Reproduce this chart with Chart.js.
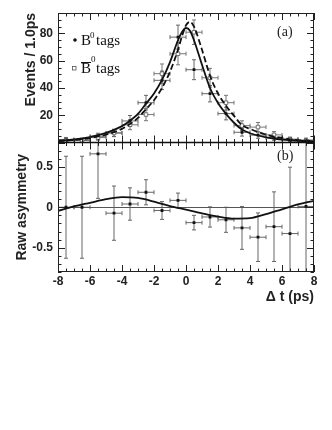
<!DOCTYPE html>
<html>
<head>
<meta charset="utf-8">
<script src="https://cdn.jsdelivr.net/npm/chart.js@4.4.0/dist/chart.umd.min.js"></script>
<style>
  body { margin: 0; background: #fff; }
  #wrap { width: 332px; height: 430px; }
</style>
</head>
<body>
<div id="wrap"><canvas id="myChart" width="332" height="430"></canvas></div>
<script>
// bins of 1 ps
const binCenters = [-7.5, -6.5, -5.5, -4.5, -3.5, -2.5, -1.5, -0.5, 0.5, 1.5, 2.5, 3.5, 4.5, 5.5, 6.5, 7.5];
const b0Events    = [2.2, 1.7, 4.6, 7, 15.8, 29.2, 45.6, 77.3, 53.4, 35.8, 21.2, 7.5, 5.4, 3.5, 2.3, 1.8];
const b0Err       = [1.5, 1.4, 2.2, 2.7, 4, 5.4, 6.8, 8.8, 7.3, 6, 4.6, 2.8, 2.3, 1.9, 1.5, 1.4];
const b0barEvents = [1.5, 1.5, 3.6, 7, 13, 20.5, 50.5, 65.1, 80.9, 47.5, 29.2, 12.4, 11.3, 5.6, 2.4, 1.2];
const b0barErr    = [1.2, 1.2, 1.9, 2.6, 3.6, 4.5, 7.1, 8.1, 9, 6.9, 5.4, 3.5, 3.4, 2.4, 1.5, 1.1];
const asym        = [0.0, 0.0, 0.66, -0.073, 0.04, 0.185, -0.04, 0.085, -0.19, -0.12, -0.155, -0.255, -0.37, -0.24, -0.325, 0.01];
const asymErr     = [0.63, 0.63, 0.55, 0.335, 0.2, 0.155, 0.11, 0.09, 0.09, 0.125, 0.155, 0.265, 0.3, 0.43, 0.82, 1.0];

// fit curves
const fitT      = [-8, -7, -6, -5, -4, -3.5, -3, -2.5, -2, -1.5, -1, -0.5, -0.25, 0, 0.25, 0.5, 1, 1.5, 2, 2.5, 3, 3.5, 4, 5, 6, 7, 8];
const fitB0     = [1.3, 2.2, 4, 7, 12, 16, 21, 28.5, 36, 46, 59, 75, 81, 84, 82, 75, 57, 40, 29, 21, 14.5, 9.5, 6.8, 3.8, 2.2, 1.3, 0.8];
const fitB0bar  = [1, 1.8, 3.3, 5.8, 10, 13.5, 18, 24.5, 31, 40, 52, 68, 78, 86, 88.5, 85, 68, 49, 36, 27, 19.5, 12.8, 10, 5.8, 3.3, 1.8, 1.1];
const asymT     = [-8, -7, -6, -5, -4, -3, -2, -1, 0, 1, 2, 3, 4, 5, 6, 7, 8];
const asymFit   = [-0.045, 0.01, 0.055, 0.1, 0.125, 0.115, 0.07, 0.015, -0.03, -0.075, -0.115, -0.14, -0.135, -0.085, -0.025, 0.035, 0.08];

const xTicks    = [-8, -6, -4, -2, 0, 2, 4, 6, 8];
const topTicks  = [20, 40, 60, 80];
const botTicks  = [-0.5, 0, 0.5];

const pts = (xs, ys) => xs.map((x, i) => ({ x: x, y: ys[i] }));

const tickFont = { family: 'Liberation Sans', size: 12, weight: 'bold' };
const titleFont = { family: 'Liberation Sans', size: 14, weight: 'bold' };

function drawErrors(chart, yScale, xs, ys, errs, color) {
  const c = chart.ctx, xS = chart.scales.x;
  c.save();
  c.beginPath();
  c.rect(chart.chartArea.left, yScale.top, chart.chartArea.right - chart.chartArea.left, yScale.bottom - yScale.top);
  c.clip();
  c.strokeStyle = color;
  c.lineWidth = 1;
  xs.forEach((x, i) => {
    const px = xS.getPixelForValue(x);
    const py = yScale.getPixelForValue(ys[i]);
    const x0 = xS.getPixelForValue(x - 0.5), x1 = xS.getPixelForValue(x + 0.5);
    const y0 = yScale.getPixelForValue(ys[i] - errs[i]), y1 = yScale.getPixelForValue(ys[i] + errs[i]);
    c.beginPath();
    c.moveTo(x0, py); c.lineTo(x1, py);
    c.moveTo(x0, py - 2); c.lineTo(x0, py + 2);
    c.moveTo(x1, py - 2); c.lineTo(x1, py + 2);
    c.moveTo(px, y0); c.lineTo(px, y1);
    c.moveTo(px - 2, y0); c.lineTo(px + 2, y0);
    c.moveTo(px - 2, y1); c.lineTo(px + 2, y1);
    c.stroke();
  });
  c.restore();
}

function drawTicks(c, yS, step, minorStep, leftX, rightX) {
  c.beginPath();
  for (let v = Math.ceil(yS.min / minorStep) * minorStep; v <= yS.max + 1e-9; v += minorStep) {
    const major = Math.abs(v / step - Math.round(v / step)) < 1e-6;
    const len = major ? 7 : 3.5;
    const py = Math.round(yS.getPixelForValue(v)) + 0.5;
    c.moveTo(leftX, py); c.lineTo(leftX + len, py);
    c.moveTo(rightX, py); c.lineTo(rightX - len, py);
  }
  c.stroke();
}

const panelPlugin = {
  id: 'panels',
  beforeDatasetsDraw(chart) {
    const yb = chart.scales.yBot, yt = chart.scales.yTop;
    drawErrors(chart, yt, binCenters, b0barEvents, b0barErr, '#777');
    drawErrors(chart, yt, binCenters, b0Events, b0Err, '#666');
    drawErrors(chart, yb, binCenters, asym, asymErr, '#666');
    const c = chart.ctx, a = chart.chartArea;
    // zero line
    c.save();
    c.strokeStyle = '#555';
    c.lineWidth = 1;
    const z = Math.round(yb.getPixelForValue(0)) + 0.5;
    c.beginPath(); c.moveTo(a.left, z); c.lineTo(a.right, z); c.stroke();
    c.restore();
  },
  afterDraw(chart) {
    const c = chart.ctx, a = chart.chartArea, xS = chart.scales.x;
    const yb = chart.scales.yBot, yt = chart.scales.yTop;
    c.save();
    c.strokeStyle = '#222';
    c.lineWidth = 1;
    c.strokeRect(a.left + 0.5, a.top + 0.5, a.right - a.left - 1, a.bottom - a.top - 1);
    drawTicks(c, yt, 20, 5, a.left, a.right);
    drawTicks(c, yb, 0.5, 0.1, a.left, a.right);
    // x ticks at top, middle (both ways), bottom
    const mid = yt.bottom;
    c.beginPath();
    for (let v = -8; v <= 8; v += 0.5) {
      const major = v % 2 === 0;
      const len = major ? 7 : 3.5;
      const px = Math.round(xS.getPixelForValue(v)) + 0.5;
      c.moveTo(px, a.top); c.lineTo(px, a.top + len);
      c.moveTo(px, a.bottom); c.lineTo(px, a.bottom - len);
      c.moveTo(px, mid - len); c.lineTo(px, mid + len);
    }
    c.stroke();
    c.lineWidth = 1.6;
    c.strokeStyle = '#111';
    c.beginPath(); c.moveTo(a.left, mid); c.lineTo(a.right, mid); c.stroke();

    // panel labels
    c.fillStyle = '#222';
    c.font = '14px "Liberation Serif"';
    c.textAlign = 'left';
    c.textBaseline = 'middle';
    c.fillText('(a)', 277, 32);
    c.fillText('(b)', 277, 156);

    // legend
    c.textBaseline = 'alphabetic';
    c.fillStyle = '#111';
    c.beginPath(); c.arc(75, 40, 1.8, 0, Math.PI * 2); c.fill();
    c.font = '15px "Liberation Serif"';
    c.fillText('B', 81, 45);
    c.font = '9px "Liberation Serif"';
    c.fillText('0', 90, 38);
    c.font = '15px "Liberation Serif"';
    c.fillText('tags', 96, 45);

    c.lineWidth = 0.8;
    c.strokeStyle = '#555';
    c.strokeRect(72.5, 66.5, 3.5, 3.5);
    c.fillText('B', 81, 73);
    c.font = '9px "Liberation Serif"';
    c.fillText('0', 91, 62);
    c.font = '15px "Liberation Serif"';
    c.fillText('tags', 96, 73);
    c.lineWidth = 1;
    c.strokeStyle = '#111';
    c.beginPath(); c.moveTo(81, 62.5); c.lineTo(91, 62.5); c.stroke();
    c.restore();
  }
};

const ctx = document.getElementById('myChart').getContext('2d');

const myChart = new Chart(ctx, {
  data: {
    datasets: [
      {
        type: 'line', label: 'fit B0', data: pts(fitT, fitB0), yAxisID: 'yTop',
        borderColor: '#111', borderWidth: 1.8, pointRadius: 0, cubicInterpolationMode: 'monotone', fill: false
      },
      {
        type: 'line', label: 'fit B0bar', data: pts(fitT, fitB0bar), yAxisID: 'yTop',
        borderColor: '#111', borderWidth: 1.8, borderDash: [6, 3], pointRadius: 0, cubicInterpolationMode: 'monotone', fill: false
      },
      {
        type: 'scatter', label: 'B0bar tags', data: pts(binCenters, b0barEvents), yAxisID: 'yTop',
        pointStyle: 'rect', pointRadius: 2.5, backgroundColor: '#fff', borderColor: '#555', borderWidth: 0.8
      },
      {
        type: 'scatter', label: 'B0 tags', data: pts(binCenters, b0Events), yAxisID: 'yTop',
        pointStyle: 'rect', pointRadius: 2, backgroundColor: '#111', borderColor: '#111', borderWidth: 0
      },
      {
        type: 'line', label: 'asym fit', data: pts(asymT, asymFit), yAxisID: 'yBot',
        borderColor: '#111', borderWidth: 1.8, pointRadius: 0, cubicInterpolationMode: 'monotone', fill: false
      },
      {
        type: 'scatter', label: 'asym', data: pts(binCenters, asym), yAxisID: 'yBot',
        pointStyle: 'rect', pointRadius: 2, backgroundColor: '#111', borderColor: '#111', borderWidth: 0
      }
    ]
  },
  options: {
    responsive: false,
    animation: false,
    layout: { padding: { top: 13, right: 18, left: 0, bottom: 124 } },
    scales: {
      x: {
        type: 'linear', min: -8, max: 8,
        grid: { display: false, drawTicks: false },
        border: { display: false },
        afterBuildTicks: (axis) => { axis.ticks = xTicks.map(v => ({ value: v })); },
        afterFit: (axis) => { axis.height = 34; },
        ticks: { font: tickFont, color: '#222', padding: 2, maxRotation: 0, callback: (v) => String(v) },
        title: { display: true, text: 'Δ t (ps)', align: 'end', font: titleFont, color: '#222', padding: 0 }
      },
      yBot: {
        type: 'linear', position: 'left', stack: 'panels', stackWeight: 1, min: -0.8, max: 0.8,
        grid: { display: false, drawTicks: false },
        border: { display: false },
        afterBuildTicks: (axis) => { axis.ticks = botTicks.map(v => ({ value: v })); },
        afterFit: (axis) => { axis.width = 58; },
        ticks: { font: tickFont, color: '#222', padding: 5, callback: (v) => String(v) },
        title: { display: true, text: 'Raw asymmetry', font: titleFont, color: '#222', padding: { top: 14, bottom: 0 } }
      },
      yTop: {
        type: 'linear', position: 'left', stack: 'panels', stackWeight: 1, min: 0, max: 95,
        grid: { display: false, drawTicks: false },
        border: { display: false },
        afterBuildTicks: (axis) => { axis.ticks = topTicks.map(v => ({ value: v })); },
        afterFit: (axis) => { axis.width = 58; },
        ticks: { font: tickFont, color: '#222', padding: 5, callback: (v) => String(v) },
        title: { display: true, text: 'Events / 1.0ps', align: 'end', font: titleFont, color: '#222', padding: { top: 23, bottom: 0 } }
      }
    },
    plugins: {
      legend: { display: false },
      tooltip: { enabled: false }
    }
  },
  plugins: [panelPlugin]
});
</script>
</body>
</html>
